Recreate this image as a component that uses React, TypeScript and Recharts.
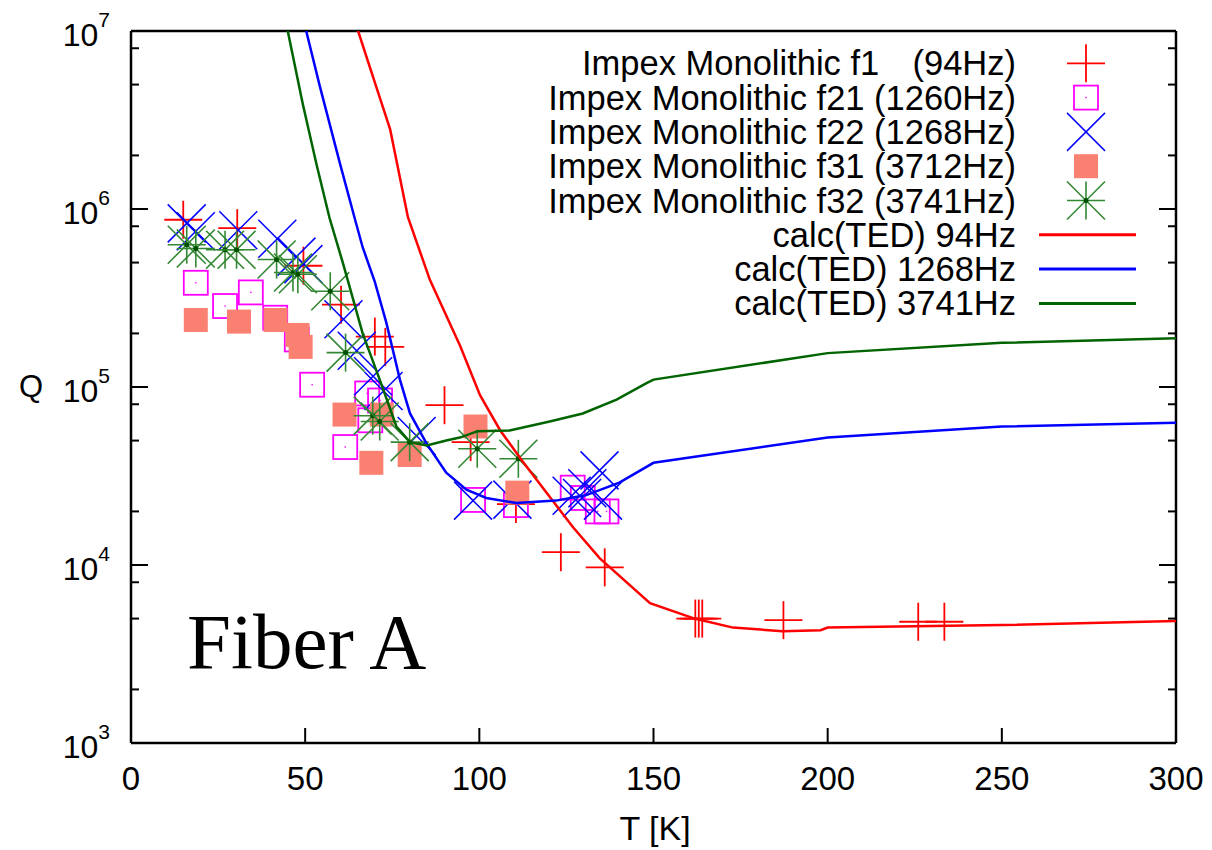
import React from 'react';
import { ComposedChart, Line, Scatter, XAxis, YAxis } from 'recharts';

const FONT = '"Liberation Sans", Arial, Helvetica, sans-serif';
const SERIF = '"Liberation Serif", "Times New Roman", serif';

// ---- axis ticks ----
const T_TICKS = [0, 50, 100, 150, 200, 250, 300];
const Q_DECADES = [3, 4, 5, 6];
const Q_MINOR_FACTORS = [2, 5, 8];
const Q_TICKS: number[] = [];
Q_DECADES.forEach((k) => {
  Q_TICKS.push(Math.pow(10, k));
  Q_MINOR_FACTORS.forEach((f) => Q_TICKS.push(f * Math.pow(10, k)));
});
Q_TICKS.push(1e7);

// ---- measured data: Impex Monolithic ----
const f1Data = [
  { t: 15, q: 8.7e5 }, { t: 30.5, q: 7.8e5 }, { t: 49.5, q: 4.8e5 }, { t: 60.3, q: 2.9e5 },
  { t: 70, q: 1.92e5 }, { t: 73, q: 1.68e5 }, { t: 90, q: 7.9e4 }, { t: 97.5, q: 4.9e4 },
  { t: 110.5, q: 2.2e4 }, { t: 123.4, q: 1.18e4 }, { t: 136, q: 9.7e3 }, { t: 162, q: 5.0e3 },
  { t: 163, q: 5.0e3 }, { t: 164, q: 5.0e3 }, { t: 187.3, q: 4.9e3 }, { t: 226, q: 4.8e3 },
  { t: 233.5, q: 4.8e3 },
];
const f21Data = [
  { t: 18.6, q: 3.85e5 }, { t: 27, q: 2.85e5 }, { t: 34.4, q: 3.4e5 }, { t: 41.4, q: 2.45e5 },
  { t: 47.6, q: 1.85e5 }, { t: 52, q: 1.03e5 }, { t: 61.5, q: 4.6e4 }, { t: 67.8, q: 9.2e4 },
  { t: 68.7, q: 6.5e4 }, { t: 71.5, q: 8.4e4 }, { t: 98.2, q: 2.32e4 }, { t: 110.5, q: 2.17e4 },
  { t: 126.8, q: 2.72e4 }, { t: 129.7, q: 2.38e4 }, { t: 134, q: 2.0e4 }, { t: 136.5, q: 2.0e4 },
];
const f22Data = [
  { t: 16, q: 8.3e5 }, { t: 18.6, q: 7.5e5 }, { t: 30.8, q: 7.6e5 }, { t: 42, q: 6.8e5 },
  { t: 47.5, q: 5.4e5 }, { t: 49.5, q: 4.9e5 }, { t: 61, q: 2.4e5 }, { t: 64.8, q: 1.6e5 },
  { t: 69.5, q: 1.15e5 }, { t: 72.5, q: 9.5e4 }, { t: 82, q: 5.3e4 }, { t: 98.2, q: 2.3e4 },
  { t: 109.5, q: 2.33e4 }, { t: 126.5, q: 2.45e4 }, { t: 129.5, q: 2.38e4 }, { t: 131, q: 2.7e4 },
  { t: 134.5, q: 3.4e4 }, { t: 135.5, q: 2.3e4 },
];
const f31Data = [
  { t: 18.6, q: 2.38e5 }, { t: 31, q: 2.33e5 }, { t: 41.5, q: 2.38e5 }, { t: 47.8, q: 1.96e5 },
  { t: 48.7, q: 1.68e5 }, { t: 61.3, q: 7.0e4 }, { t: 69, q: 3.75e4 }, { t: 72, q: 7.0e4 },
  { t: 80, q: 4.15e4 }, { t: 98.9, q: 6.0e4 }, { t: 110.9, q: 2.55e4 },
];
const f32Data = [
  { t: 16, q: 6.3e5 }, { t: 18.6, q: 6.0e5 }, { t: 27, q: 5.9e5 }, { t: 30.3, q: 5.9e5 },
  { t: 41.8, q: 5.2e5 }, { t: 46.5, q: 4.4e5 }, { t: 47.9, q: 4.3e5 }, { t: 57.2, q: 3.45e5 },
  { t: 61.6, q: 1.56e5 }, { t: 69.4, q: 6.9e4 }, { t: 71.4, q: 6.4e4 }, { t: 80, q: 4.9e4 },
  { t: 99.4, q: 4.5e4 }, { t: 111.2, q: 3.95e4 },
];

// ---- calc(TED) curves ----
const ted94 = [
  { t: 62, q: 1.5e7 }, { t: 65.2, q: 1e7 }, { t: 69.5, q: 5.5e6 }, { t: 74.4, q: 2.8e6 },
  { t: 79.5, q: 9.0e5 }, { t: 85.8, q: 4.0e5 }, { t: 94.5, q: 1.7e5 }, { t: 100.2, q: 9.0e4 },
  { t: 106, q: 5.7e4 }, { t: 112.5, q: 3.8e4 }, { t: 120.3, q: 2.4e4 }, { t: 126.9, q: 1.63e4 },
  { t: 134.6, q: 1.09e4 }, { t: 149, q: 6.1e3 }, { t: 161.8, q: 5.0e3 }, { t: 172.8, q: 4.45e3 },
  { t: 187, q: 4.25e3 }, { t: 198, q: 4.3e3 }, { t: 200, q: 4.45e3 }, { t: 250, q: 4.6e3 },
  { t: 300, q: 4.85e3 },
];
const ted1268 = [
  { t: 48, q: 1.45e7 }, { t: 50.3, q: 1e7 }, { t: 54.2, q: 4.9e6 }, { t: 60, q: 1.8e6 },
  { t: 64.2, q: 8.9e5 }, { t: 66.5, q: 6.1e5 }, { t: 70, q: 3.9e5 }, { t: 73.3, q: 2.3e5 },
  { t: 77.2, q: 1.1e5 }, { t: 80.1, q: 7.1e4 }, { t: 84.9, q: 4.8e4 }, { t: 90.5, q: 3.3e4 },
  { t: 96.3, q: 2.65e4 }, { t: 102, q: 2.38e4 }, { t: 110.6, q: 2.23e4 }, { t: 122, q: 2.3e4 },
  { t: 130.7, q: 2.47e4 }, { t: 140.2, q: 2.9e4 }, { t: 150, q: 3.75e4 }, { t: 200, q: 5.2e4 },
  { t: 250, q: 6.0e4 }, { t: 300, q: 6.3e4 },
];
const ted3741 = [
  { t: 43, q: 1.45e7 }, { t: 45, q: 1e7 }, { t: 49.3, q: 3.9e6 }, { t: 53.2, q: 1.8e6 },
  { t: 57, q: 8.9e5 }, { t: 60.8, q: 5.0e5 }, { t: 62.2, q: 4.0e5 }, { t: 66.5, q: 2.0e5 },
  { t: 71.4, q: 1.1e5 }, { t: 76.2, q: 6.0e4 }, { t: 80.1, q: 4.9e4 }, { t: 84.9, q: 4.7e4 },
  { t: 90.5, q: 5.0e4 }, { t: 94.4, q: 5.2e4 }, { t: 99.5, q: 5.65e4 }, { t: 108.7, q: 5.7e4 },
  { t: 120.2, q: 6.4e4 }, { t: 129.7, q: 7.1e4 }, { t: 139.4, q: 8.5e4 }, { t: 148, q: 1.05e5 },
  { t: 150, q: 1.1e5 }, { t: 200, q: 1.55e5 }, { t: 250, q: 1.77e5 }, { t: 300, q: 1.88e5 },
];

const LEGEND_POINTS = [
  { label: 'Impex Monolithic f1', freq: '(94Hz)', kind: 'plus' },
  { label: 'Impex Monolithic f21', freq: '(1260Hz)', kind: 'openSquare' },
  { label: 'Impex Monolithic f22', freq: '(1268Hz)', kind: 'cross' },
  { label: 'Impex Monolithic f31', freq: '(3712Hz)', kind: 'filledSquare' },
  { label: 'Impex Monolithic f32', freq: '(3741Hz)', kind: 'star' },
];
const LEGEND_LINES = [
  { label: 'calc(TED) 94Hz', color: '#ff0000' },
  { label: 'calc(TED) 1268Hz', color: '#0000ff' },
  { label: 'calc(TED) 3741Hz', color: '#006400' },
];

// ---- marker shapes ----
const R = 19;
const STAR_COLOR = '#338833';
const Marker = ({ kind, cx, cy }: { kind: string; cx: number; cy: number }) => {
  if (cx == null || cy == null) return null;
  switch (kind) {
    case 'plus':
      return (
        <g stroke="#ff0000" strokeWidth={1.8} fill="none">
          <line x1={cx - R} x2={cx + R} y1={cy} y2={cy} />
          <line x1={cx} x2={cx} y1={cy - R} y2={cy + R} />
        </g>
      );
    case 'openSquare':
      return (
        <g>
          <rect x={cx - 12} y={cy - 12} width={24} height={24} fill="none" stroke="#ff00ff" strokeWidth={1.8} />
          <rect x={cx - 0.7} y={cy - 0.7} width={1.4} height={1.4} fill="#ff00ff" />
        </g>
      );
    case 'cross':
      return (
        <g stroke="#0000ff" strokeWidth={1.5} fill="none">
          <line x1={cx - R} x2={cx + R} y1={cy - R} y2={cy + R} />
          <line x1={cx - R} x2={cx + R} y1={cy + R} y2={cy - R} />
        </g>
      );
    case 'filledSquare':
      return <rect x={cx - 12} y={cy - 12} width={24} height={24} fill="#fa8072" />;
    case 'star':
      return (
        <g stroke={STAR_COLOR} strokeWidth={1.6} fill="none">
          <line x1={cx - R} x2={cx + R} y1={cy} y2={cy} />
          <line x1={cx} x2={cx} y1={cy - R} y2={cy + R} />
          <line x1={cx - R} x2={cx + R} y1={cy - R} y2={cy + R} />
          <line x1={cx - R} x2={cx + R} y1={cy + R} y2={cy - R} />
          <circle cx={cx} cy={cy} r={2.5} fill="#005000" stroke="none" />
        </g>
      );
    default:
      return null;
  }
};

const shapeOf = (kind: string) => (p: any) => <Marker kind={kind} cx={p.cx} cy={p.cy} />;

// ---- ticks ----
const isMajor = (v: number) => {
  const l = Math.log10(v);
  return Math.abs(l - Math.round(l)) < 1e-6;
};

const LeftTick = (props: any) => {
  const { x, y, payload } = props;
  const v = payload.value;
  const major = isMajor(v);
  const exp = Math.round(Math.log10(v));
  return (
    <g>
      <line x1={x} x2={x + (major ? 17 : 8)} y1={y} y2={y} stroke="#000" strokeWidth={2} />
      {major && (
        <text x={x - 21} y={y + 15} textAnchor="end" fontSize={32} fontFamily={FONT} fill="#000">
          <tspan>10</tspan>
          <tspan dy={-19} fontSize={21}>{exp}</tspan>
        </text>
      )}
    </g>
  );
};

const RightTick = (props: any) => {
  const { x, y, payload } = props;
  const major = isMajor(payload.value);
  return <line x1={x} x2={x - (major ? 17 : 8)} y1={y} y2={y} stroke="#000" strokeWidth={2} />;
};

const BottomTick = (props: any) => {
  const { x, y, payload } = props;
  const v = payload.value;
  return (
    <g>
      {v > 0 && v < 300 && <line x1={x} x2={x} y1={y} y2={y - 15} stroke="#000" strokeWidth={2} />}
      <text x={x} y={y + 47} textAnchor="middle" fontSize={33} fontFamily={FONT} fill="#000">
        {v}
      </text>
    </g>
  );
};

const TopTick = (props: any) => {
  const { x, y, payload } = props;
  const v = payload.value;
  if (v <= 0 || v >= 300) return <g />;
  return <line x1={x} x2={x} y1={y} y2={y + 15} stroke="#000" strokeWidth={2} />;
};

const axisLineStyle = { stroke: '#000', strokeWidth: 2.5 };
const LEGEND_FS = 34.5;

export default function App() {
  const rowY = (i: number) => 63.3 + i * 34.3;
  const lineZ: any = { zIndex: 700 };
  return (
    <div style={{ position: 'absolute', left: 0, top: 0, width: 1212, height: 850, background: '#fff' }}>
      <ComposedChart width={1212} height={850} margin={{ top: 30, right: 35, bottom: 7, left: 51 }}>
        <XAxis
          dataKey="t"
          type="number"
          domain={[0, 300]}
          ticks={T_TICKS}
          interval={0}
          allowDataOverflow
          height={100}
          tickSize={0}
          tickMargin={0}
          tickLine={false}
          axisLine={axisLineStyle}
          tick={(p: any) => <BottomTick {...p} />}
        />
        <XAxis
          xAxisId="top"
          orientation="top"
          type="number"
          domain={[0, 300]}
          ticks={T_TICKS}
          interval={0}
          allowDataOverflow
          height={1}
          tickSize={0}
          tickMargin={0}
          tickLine={false}
          axisLine={axisLineStyle}
          tick={(p: any) => <TopTick {...p} />}
        />
        <YAxis
          dataKey="q"
          type="number"
          scale="log"
          domain={[1e3, 1e7]}
          ticks={Q_TICKS}
          interval={0}
          allowDataOverflow
          width={80}
          tickSize={0}
          tickMargin={0}
          tickLine={false}
          axisLine={axisLineStyle}
          tick={(p: any) => <LeftTick {...p} />}
        />
        <YAxis
          yAxisId="right"
          orientation="right"
          type="number"
          scale="log"
          domain={[1e3, 1e7]}
          ticks={Q_TICKS}
          interval={0}
          allowDataOverflow
          width={1}
          tickSize={0}
          tickMargin={0}
          tickLine={false}
          axisLine={axisLineStyle}
          tick={(p: any) => <RightTick {...p} />}
        />
        <Scatter name="f1" data={f1Data} dataKey="q" shape={shapeOf('plus')} isAnimationActive={false} />
        <Scatter name="f21" data={f21Data} dataKey="q" shape={shapeOf('openSquare')} isAnimationActive={false} />
        <Scatter name="f22" data={f22Data} dataKey="q" shape={shapeOf('cross')} isAnimationActive={false} />
        <Scatter name="f31" data={f31Data} dataKey="q" shape={shapeOf('filledSquare')} isAnimationActive={false} />
        <Scatter name="f32" data={f32Data} dataKey="q" shape={shapeOf('star')} isAnimationActive={false} />
        <Line {...lineZ} data={ted94} dataKey="q" type="linear" stroke="#ff0000" strokeWidth={2.5} dot={false} activeDot={false} isAnimationActive={false} />
        <Line {...lineZ} data={ted1268} dataKey="q" type="linear" stroke="#0000ff" strokeWidth={2.5} dot={false} activeDot={false} isAnimationActive={false} />
        <Line {...lineZ} data={ted3741} dataKey="q" type="linear" stroke="#006400" strokeWidth={2.5} dot={false} activeDot={false} isAnimationActive={false} />
      </ComposedChart>
      <svg width={1212} height={850} style={{ position: 'absolute', left: 0, top: 0, pointerEvents: 'none' }}>
        {LEGEND_POINTS.map((e, i) => (
          <g key={e.label}>
            {i === 0 ? (
              <>
                <text x={582} y={rowY(i) + 12} fontSize={LEGEND_FS} fontFamily={FONT} fill="#000">{e.label}</text>
                <text x={1016} y={rowY(i) + 12} textAnchor="end" fontSize={LEGEND_FS} fontFamily={FONT} fill="#000">{e.freq}</text>
              </>
            ) : (
              <text x={1016} y={rowY(i) + 12} textAnchor="end" fontSize={LEGEND_FS} fontFamily={FONT} fill="#000">
                {e.label + ' ' + e.freq}
              </text>
            )}
            <Marker kind={e.kind} cx={1086} cy={rowY(i)} />
          </g>
        ))}
        {LEGEND_LINES.map((e, i) => (
          <g key={e.label}>
            <text x={1016} y={rowY(i + 5) + 12} textAnchor="end" fontSize={LEGEND_FS} fontFamily={FONT} fill="#000">{e.label}</text>
            <line x1={1039} x2={1136} y1={rowY(i + 5)} y2={rowY(i + 5)} stroke={e.color} strokeWidth={3} />
          </g>
        ))}
        <text x={187} y={668} fontSize={79} fontFamily={SERIF} fill="#000">Fiber A</text>
        <text x={31} y={397} textAnchor="middle" fontSize={31} fontFamily={FONT} fill="#000">Q</text>
        <text x={655} y={840} textAnchor="middle" fontSize={34} fontFamily={FONT} fill="#000">T [K]</text>
      </svg>
    </div>
  );
}
